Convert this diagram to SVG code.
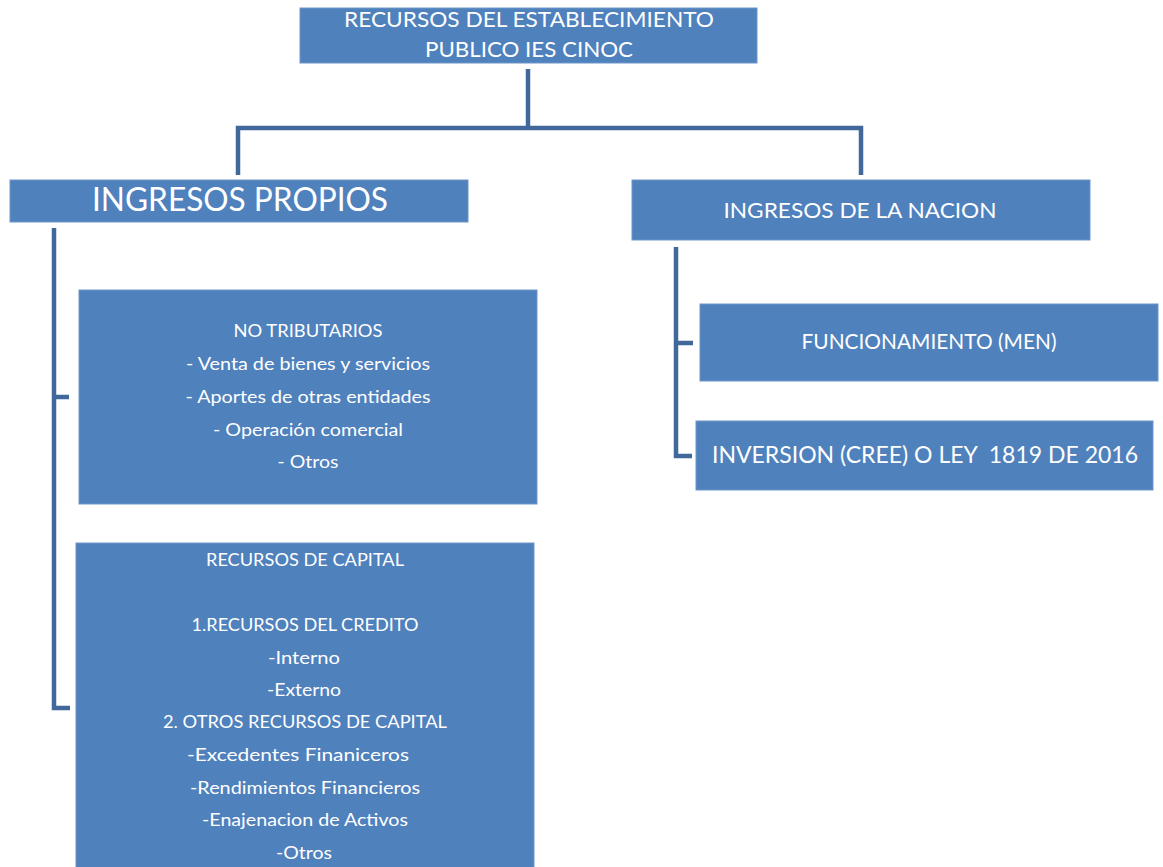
<svg xmlns="http://www.w3.org/2000/svg" width="1163" height="867" viewBox="0 0 1163 867">
<style>
.box{fill:#4F81BD;stroke:#6E95C8;stroke-width:1}
.t{font-family:Lato,"Open Sans","Liberation Sans",sans-serif;fill:#ffffff;text-anchor:middle}
.s{font-size:18px}
.c{fill:none;stroke:#41689A;stroke-width:4.5;stroke-linejoin:miter}
</style>
<rect width="1163" height="867" fill="#ffffff"/>
<g id="connectors">
<path class="c" d="M528 69 V128 M238 175 V128 H861 V175"/>
<path class="c" d="M70 708 H54 V228 M54 397 H69"/>
<path class="c" d="M692 456 H676 V247 M676 343 H693"/>
</g>
<g id="root">
<rect class="box" x="300" y="8" width="457" height="55"/>
<text class="t" x="529" y="27" font-size="21" textLength="370" lengthAdjust="spacingAndGlyphs">RECURSOS DEL ESTABLECIMIENTO</text>
<text class="t" x="529" y="57" font-size="21" textLength="208" lengthAdjust="spacingAndGlyphs">PUBLICO IES CINOC</text>
</g>
<g id="propios">
<rect class="box" x="10" y="180" width="458" height="42"/>
<text class="t" x="240" y="211" font-size="32" textLength="296" lengthAdjust="spacingAndGlyphs">INGRESOS PROPIOS</text>
</g>
<g id="nacion">
<rect class="box" x="632" y="180" width="458" height="60"/>
<text class="t" x="860" y="218" font-size="22" textLength="273" lengthAdjust="spacingAndGlyphs">INGRESOS DE LA NACION</text>
</g>
<g id="notributarios">
<rect class="box" x="79" y="290" width="458" height="214"/>
<text class="t s" x="308" y="337" textLength="149" lengthAdjust="spacingAndGlyphs">NO TRIBUTARIOS</text>
<text class="t s" x="308" y="370" textLength="244" lengthAdjust="spacingAndGlyphs">- Venta de bienes y servicios</text>
<text class="t s" x="308" y="403" textLength="245" lengthAdjust="spacingAndGlyphs">- Aportes de otras entidades</text>
<text class="t s" x="308" y="436" textLength="190" lengthAdjust="spacingAndGlyphs">- Operación comercial</text>
<text class="t s" x="308" y="468" textLength="61" lengthAdjust="spacingAndGlyphs">- Otros</text>
</g>
<g id="capital">
<rect class="box" x="76" y="543" width="458" height="330"/>
<text class="t s" x="305" y="566" textLength="198" lengthAdjust="spacingAndGlyphs">RECURSOS DE CAPITAL</text>
<text class="t s" x="305" y="631" textLength="227" lengthAdjust="spacingAndGlyphs">1.RECURSOS DEL CREDITO</text>
<text class="t s" x="304" y="664" textLength="72" lengthAdjust="spacingAndGlyphs">-Interno</text>
<text class="t s" x="304" y="696" textLength="74" lengthAdjust="spacingAndGlyphs">-Externo</text>
<text class="t s" x="305" y="728" textLength="284" lengthAdjust="spacingAndGlyphs">2. OTROS RECURSOS DE CAPITAL</text>
<text class="t s" x="298" y="761" textLength="222" lengthAdjust="spacingAndGlyphs">-Excedentes Finaniceros</text>
<text class="t s" x="305" y="794" textLength="230" lengthAdjust="spacingAndGlyphs">-Rendimientos Financieros</text>
<text class="t s" x="305" y="826" textLength="206" lengthAdjust="spacingAndGlyphs">-Enajenacion de Activos</text>
<text class="t s" x="304" y="859" textLength="56" lengthAdjust="spacingAndGlyphs">-Otros</text>
</g>
<g id="funcionamiento">
<rect class="box" x="700" y="304" width="458" height="77"/>
<text class="t" x="929" y="349" font-size="21" textLength="255" lengthAdjust="spacingAndGlyphs">FUNCIONAMIENTO (MEN)</text>
</g>
<g id="inversion">
<rect class="box" x="696" y="421" width="457" height="69"/>
<text class="t" x="925" y="463" font-size="23" textLength="426" lengthAdjust="spacingAndGlyphs" xml:space="preserve">INVERSION (CREE) O LEY  1819 DE 2016</text>
</g>
</svg>
